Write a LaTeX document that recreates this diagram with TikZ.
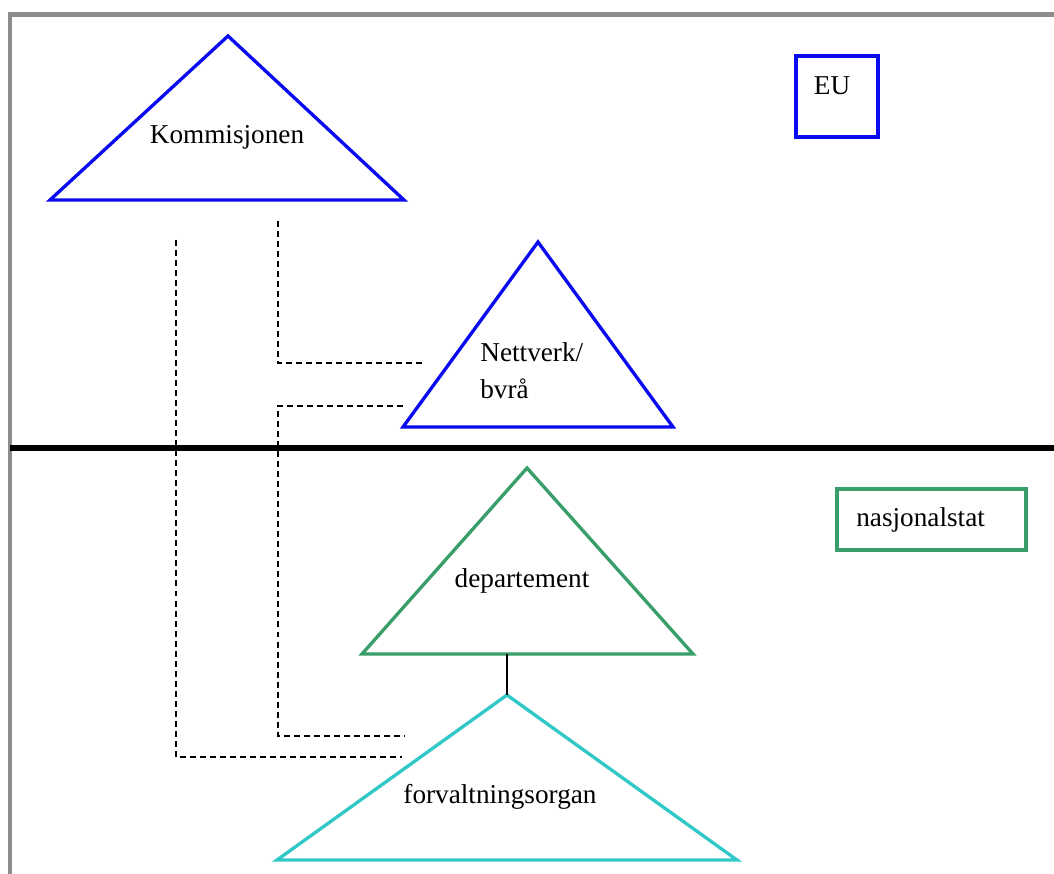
\documentclass[tikz,border=0pt]{standalone}
\usepackage{fontspec}
\setmainfont{Liberation Serif}
\definecolor{eublue}{RGB}{10,10,240}
\definecolor{natgreen}{RGB}{56,158,106}
\definecolor{orgcyan}{RGB}{50,200,200}
\begin{document}
\begin{tikzpicture}[x=0.02cm,y=-0.02cm,
    tri/.style={line width=1.9pt,line join=miter},
    lbl/.style={font=\fontsize{15.5}{18}\selectfont,inner sep=0pt},
    dash line/.style={line width=0.8pt,dash pattern=on 3.4pt off 2.3pt}]
                \useasboundingbox (0,0) rectangle (1054,874);
                \clip (0,0) rectangle (1054,874);
                \draw[gray!90,line width=2.8pt] (10,14.5) rectangle (1070,900);
                \draw[line width=3.4pt] (10,448) -- (1060,448);
                % EU
                \coordinate (K1) at (228,36);
                \coordinate (K2) at (50,200);
                \coordinate (K3) at (404,200);
                \draw[tri,eublue] (K1) -- (K2) -- (K3) -- cycle;
                \node[lbl] (kom) at (227,137) {Kommisjonen};
                \coordinate (N1) at (538,242);
                \coordinate (N2) at (403,427);
                \coordinate (N3) at (673,427);
                \draw[tri,eublue] (N1) -- (N2) -- (N3) -- cycle;
                \node[lbl,align=left,anchor=west] (net) at (480,371) {Nettverk/\\[3pt]bvrå};
                \draw[eublue,line width=2.3pt] (796,56) rectangle (878,137);
                \node[lbl] (eu) at (832,86) {EU};
                % nasjonalstat
                \coordinate (D1) at (527,468);
                \coordinate (D2) at (362,654);
                \coordinate (D3) at (693,654);
                \draw[tri,natgreen] (D1) -- (D2) -- (D3) -- cycle;
                \node[lbl] (dep) at (522,581) {departement};
                \coordinate (F1) at (507,695);
                \coordinate (F2) at (277,860);
                \coordinate (F3) at (737,860);
                \draw[tri,orgcyan] (F1) -- (F2) -- (F3) -- cycle;
                \node[lbl] (forv) at (500,797) {forvaltningsorgan};
                \draw[natgreen,line width=2.3pt] (837,489) rectangle (1026,550);
                \node[lbl,anchor=west] (nas) at (856,520) {nasjonalstat};
                % forbindelser
                \coordinate (D0) at (507,654);
                \draw[line width=0.8pt] (D0) -- (F1);
                \coordinate (a1) at (278,221);
                \coordinate (a2) at (425,363);
                \draw[dash line] (a1) |- (a2);
                \coordinate (b1) at (403,406);
                \coordinate (b2) at (278,406);
                \coordinate (b3) at (405,736);
                \draw[dash line] (b1) -- (b2) |- (b3);
                \coordinate (c1) at (176,240);
                \coordinate (c2) at (402,757);
                \draw[dash line] (c1) |- (c2);
            \end{tikzpicture}
\end{document}
